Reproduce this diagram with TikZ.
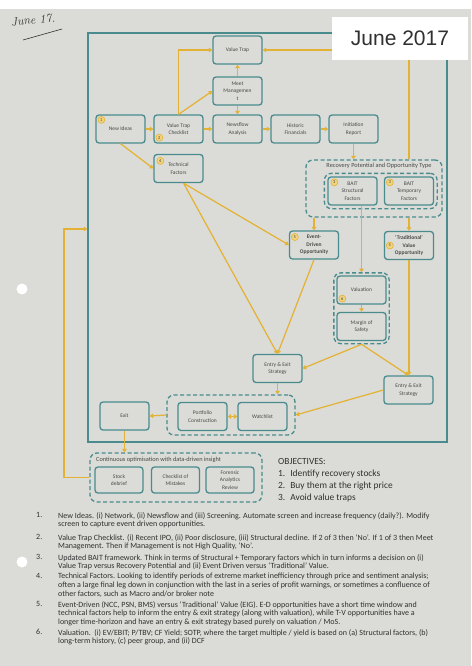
\documentclass[tikz,border=0pt]{standalone}
\usepackage{fontspec}
\setmainfont{Carlito}
\newfontfamily\tagfont{Liberation Sans}
\newfontfamily\handfont{Latin Modern Roman}
\usepackage{xcolor}
\usetikzlibrary{arrows.meta,positioning,fit,backgrounds}

\definecolor{paper}{RGB}{219,219,215}
\definecolor{tealline}{RGB}{74,140,142}
\definecolor{gold}{RGB}{228,178,50}
\definecolor{badgefill}{RGB}{240,212,128}
\definecolor{inkgray}{RGB}{72,72,72}
\definecolor{notegray}{RGB}{48,48,48}

\begin{document}
\begin{tikzpicture}[
    x=1pt, y=-1pt,
    box/.style={
        rectangle,
        rounded corners=3pt,
        draw=tealline,
        line width=1.3pt,
        fill=paper,
        minimum width=49pt,
        minimum height=28pt,
        inner sep=1pt,
        align=center,
        text=inkgray,
        font=\fontsize{5.5}{7.4}\selectfont
    },
    smallbox/.style={box, minimum width=48pt, minimum height=26pt},
    group/.style={draw=tealline, line width=1.3pt, dash pattern=on 4pt off 2.5pt, rounded corners=7pt},
    badge/.style={circle, draw=gold, fill=badgefill, line width=0.6pt, inner sep=0pt,
        minimum size=7pt, text=inkgray, font=\fontsize{4.5}{4.5}\selectfont},
    arrow/.style={-{Triangle[width=4.5pt,length=3.5pt]}, draw=gold, line width=1.2pt},
    dblarrow/.style={arrow, {Triangle[width=4.5pt,length=3.5pt]}-{Triangle[width=4.5pt,length=3.5pt]}},
    grouplabel/.style={inner sep=0pt, text=inkgray, font=\fontsize{6.3}{7}\selectfont},
    note/.style={anchor=north west, inner sep=0pt, align=left, text=notegray,
        font=\fontsize{8}{8.8}\selectfont},
    notenum/.style={anchor=north west, inner sep=0pt, text=notegray, font=\fontsize{8}{8.8}\selectfont}
]

% Page
\useasboundingbox (0,0) rectangle (471,666);
\fill[white] (0,0) rectangle (471,666);
\fill[paper] (0,9) rectangle (471,666);
\fill[white] (22,289) circle (5.5);
\fill[white] (22,562) circle (5.5);

% Handwritten date
\node[rotate=6, text=notegray, font=\handfont\itshape\fontsize{12}{12}\selectfont] (handnote) at (33,20) {June 17.};
\draw[notegray, line width=0.6pt] (23,40) -- (62,29);

% Outer frame
\node[draw=tealline, line width=1.3pt, fit={(88,33) (447,442)}, inner sep=0pt] (frame) {};

% Boxes
\node[box] (valtrap) at (237.5,50) {Value Trap};
\node[box] (meet) at (237.5,91) {Meet\\Managemen\\t};
\node[box] (newideas) at (120.5,129) {New Ideas};
\node[box] (checklist) at (178.5,129) {Value Trap\\Checklist};
\node[box] (newsflow) at (237.5,129) {Newsflow\\Analysis};
\node[box] (historic) at (295.5,129) {Historic\\Financials};
\node[box] (initiation) at (353.5,129) {Initiation\\Report};
\node[box] (technical) at (178.5,168.5) {Technical\\Factors};
\node[box] (bstruct) at (352.5,191) {BAIT\\Structural\\Factors};
\node[box] (btemp) at (409,191) {BAIT\\Temporary\\Factors};
\node[box, font=\bfseries\fontsize{5.5}{7.4}\selectfont] (eventdriven) at (314,245) {Event-\\Driven\\Opportunity};
\node[box, font=\bfseries\fontsize{5.5}{7.4}\selectfont] (tradvalue) at (409,245.5) {`Traditional'\\Value\\Opportunity};
\node[box] (valuation) at (361.5,290) {Valuation};
\node[box] (margin) at (361.5,326.5) {Margin of\\Safety};
\node[box] (entryL) at (277.5,368.5) {Entry \& Exit\\Strategy};
\node[box] (entryR) at (408.5,390) {Entry \& Exit\\Strategy};
\node[box] (portfolio) at (202.5,416.5) {Portfolio\\Construction};
\node[box] (watchlist) at (262.5,416.5) {Watchlist};
\node[box] (exit) at (124.5,416) {Exit};
\node[smallbox] (stock) at (119,480) {Stock\\debrief};
\node[smallbox] (mistakes) at (175.5,480) {Checklist of\\Mistakes};
\node[smallbox] (forensic) at (230,480) {Forensic\\Analytics\\Review};

% Groups
\node[group, fit=(bstruct)(btemp), inner sep=3pt] (binner) {};
\node[group, fit={(306,160) (442,217)}, inner sep=0pt] (recovery) {};
\node[grouplabel] (reclabel) at (379,166) {Recovery Potential and Opportunity Type};
\node[group, fit=(valuation)(margin), inner sep=2.5pt] (valgroup) {};
\node[group, fit={(167,395) (295,435)}, inner sep=0pt] (pwgroup) {};
\node[group, fit={(90,453) (262,502)}, inner sep=0pt] (contgroup) {};
\node[grouplabel, anchor=west] (contlabel) at (96,459.5) {Continuous optimisation with data-driven insight};

% Number badges
\node[badge] (b1) at ([shift={(6,5.5)}]newideas.north west) {1};
\node[badge] (b2) at ([shift={(6,-6)}]checklist.south west) {2};
\node[badge] (b4) at ([shift={(7,7)}]technical.north west) {4};
\node[badge] (b3a) at ([shift={(7,6)}]bstruct.north west) {3};
\node[badge] (b3b) at ([shift={(6,6)}]btemp.north west) {3};
\node[badge] (b5a) at ([shift={(6,-8)}]eventdriven.west) {5};
\node[badge] (b5b) at ([shift={(6,0)}]tradvalue.west) {5};
\node[badge] (b6) at ([shift={(6,-6)}]valuation.south west) {6};

% Flow arrows
\draw[arrow] (newideas) -- (checklist);
\draw[arrow] (checklist) -- (newsflow);
\draw[arrow] (newsflow) -- (historic);
\draw[arrow] (historic) -- (initiation);
\draw[arrow] (checklist.north) |- (valtrap.west);
\draw[arrow] (checklist.north) -- (meet.west);
\draw[arrow] (meet) -- (valtrap);
\draw[arrow] (meet) -- (newsflow);
\draw[arrow] (recovery.north -| btemp) |- (valtrap.east);
\draw[arrow] (initiation) -- (initiation |- recovery.north);
\draw[arrow] (newideas.south) -- (technical.west);
\draw[arrow] ([xshift=5pt]technical.south) -- (eventdriven.west);
\draw[arrow] ([xshift=5pt]technical.south) -- (entryL.north);
\draw[arrow] (recovery.south -| eventdriven) -- (eventdriven);
\draw[arrow] (recovery.south -| tradvalue) -- (tradvalue);
\draw[arrow] (bstruct.south -| valgroup.north) -- (valgroup.north);
\draw[arrow] (valuation) -- (margin);
\draw[arrow] (eventdriven.south) -- (entryL.north);
\draw[arrow] (valgroup.south) -- (entryL.east);
\draw[arrow] (valgroup.south) -- (entryR.north);
\draw[arrow] (tradvalue) -- (tradvalue |- entryR.north);
\draw[arrow] (entryL) -- (entryL |- pwgroup.north);
\draw[arrow] (entryR.west) -- (pwgroup.east);
\draw[dblarrow] (portfolio) -- (watchlist);
\draw[arrow] (pwgroup.west) -- (exit.east);
\draw[arrow] (exit) -- (exit |- contgroup.north);

% Feedback loop
\coordinate (fbturn) at (64,229);
\coordinate (fbend) at (frame.west |- fbturn);
\draw[arrow] (contgroup.west) -| (fbturn) -- (fbend);

% Objectives
\node[anchor=north west, inner sep=0pt, text=notegray, font=\fontsize{9.4}{12}\selectfont] (objectives) at (278,456) {
    \begin{tabular}{@{}l@{\hspace{5pt}}l@{}}
        \multicolumn{2}{@{}l}{OBJECTIVES:}\\
        1. & Identify recovery stocks\\
        2. & Buy them at the right price\\
        3. & Avoid value traps
    \end{tabular}
};

% Notes
\node[notenum] (num1) at (36,512) {1.};
\node[note] (note1) at (58,512) {New Ideas. (i) Network, (ii) Newsflow and (iii) Screening. Automate screen and increase frequency (daily?). Modify\\screen to capture event driven opportunities.};
\node[notenum] (num2) at (36,534) {2.};
\node[note] (note2) at (58,534) {Value Trap Checklist. (i) Recent IPO, (ii) Poor disclosure, (iii) Structural decline. If 2 of 3 then `No'. If 1 of 3 then Meet\\Management. Then if Management is not High Quality, `No'.};
\node[notenum] (num3) at (36,554) {3.};
\node[note] (note3) at (58,554) {Updated BAIT framework. Think in terms of Structural + Temporary factors which in turn informs a decision on (i)\\Value Trap versus Recovery Potential and (ii) Event Driven versus `Traditional' Value.};
\node[notenum] (num4) at (36,573) {4.};
\node[note] (note4) at (58,573) {Technical Factors. Looking to identify periods of extreme market inefficiency through price and sentiment analysis;\\often a large final leg down in conjunction with the last in a series of profit warnings, or sometimes a confluence of\\other factors, such as Macro and/or broker note};
\node[notenum] (num5) at (36,601) {5.};
\node[note] (note5) at (58,601) {Event-Driven (NCC, PSN, BMS) versus `Traditional' Value (EIG). E-D opportunities have a short time window and\\technical factors help to inform the entry \& exit strategy (along with valuation), while T-V opportunities have a\\longer time-horizon and have an entry \& exit strategy based purely on valuation / MoS.};
\node[notenum] (num6) at (36,629) {6.};
\node[note] (note6) at (58,629) {Valuation.\ \ (i) EV/EBIT; P/TBV; CF Yield; SOTP, where the target multiple / yield is based on (a) Structural factors, (b)\\long-term history, (c) peer group, and (ii) DCF};

% Date tag
\node[fill=white, minimum width=136pt, minimum height=43pt, inner sep=0pt, text=notegray,
    font=\tagfont\fontsize{21}{21}\selectfont] (datetag) at (400,38.5) {June 2017};

\end{tikzpicture}
\end{document}
